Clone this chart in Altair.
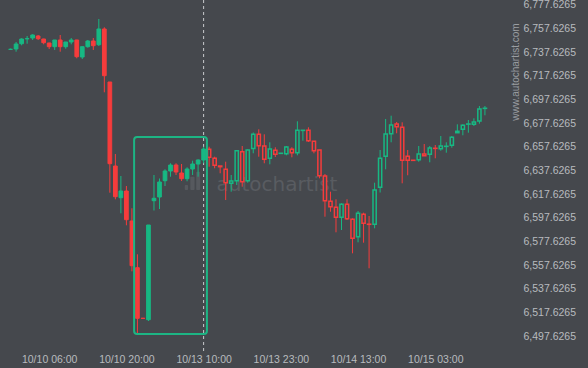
import altair as alt
import pandas as pd

# ---- candle data (hourly) ----
opens = [6739.90, 6740.23, 6744.70, 6748.80, 6749.52, 6751.20, 6748.67, 6745.30, 6742.17, 6747.83,
         6742.17, 6746.14, 6747.83, 6733.47, 6742.17, 6746.98, 6743.86, 6757.12, 6712.37, 6641.45,
         6614.68, 6620.34, 6595.01, 6555.58, 6512.90, 6511.68, 6612.15, 6615.27, 6629.03, 6637.22,
         6642.29, 6635.54, 6630.72, 6638.91, 6643.13, 6646.51, 6655.55, 6647.95, 6641.45, 6638.66,
         6626.84, 6629.03, 6653.52, 6629.03, 6656.22, 6668.29, 6658.33, 6647.95, 6654.70, 6652.10,
         6651.83, 6655.55, 6652.67, 6671.50, 6671.59, 6662.30, 6654.95, 6633.00, 6611.64, 6606.58,
         6598.13, 6609.11, 6596.45, 6581.75, 6600.66, 6592.30, 6592.22, 6623.46, 6649.64, 6668.72,
         6676.91, 6674.12, 6649.64, 6646.30, 6646.77, 6651.58, 6651.32, 6656.40, 6656.05, 6658.00,
         6658.92, 6669.56, 6672.43, 6676.80, 6676.65, 6679.44, 6690.10]
highs = [6740.60, 6746.14, 6749.26, 6751.20, 6752.64, 6752.05, 6748.90, 6745.50, 6747.83, 6752.05,
         6746.14, 6749.52, 6748.00, 6742.17, 6747.83, 6749.52, 6765.56, 6758.55, 6712.37, 6651.58,
         6633.00, 6624.56, 6605.73, 6566.89, 6513.00, 6591.63, 6633.85, 6630.89, 6638.66, 6643.73,
         6643.73, 6643.13, 6640.35, 6645.92, 6647.10, 6657.74, 6657.74, 6649.30, 6641.45, 6645.08,
         6633.85, 6654.95, 6658.33, 6655.55, 6669.73, 6672.43, 6668.21, 6661.46, 6657.24, 6652.30,
         6658.33, 6657.24, 6679.19, 6671.70, 6674.12, 6662.30, 6654.95, 6634.69, 6619.75, 6613.33,
         6609.95, 6613.33, 6597.29, 6603.45, 6602.02, 6599.23, 6627.35, 6654.95, 6681.13, 6683.91,
         6678.60, 6678.34, 6654.95, 6646.40, 6658.33, 6660.02, 6658.33, 6659.18, 6666.78, 6661.46,
         6666.78, 6676.65, 6676.65, 6680.28, 6681.72, 6692.10, 6692.10]
lows = [6739.40, 6737.95, 6743.35, 6744.70, 6747.83, 6747.83, 6744.20, 6740.23, 6739.40, 6737.95,
        6740.48, 6744.20, 6732.38, 6731.79, 6741.33, 6739.40, 6742.76, 6703.67, 6618.90, 6613.33,
        6601.51, 6591.38, 6552.54, 6500.19, 6512.60, 6510.58, 6603.87, 6605.14, 6624.56, 6632.41,
        6633.85, 6628.78, 6628.53, 6633.85, 6632.41, 6643.73, 6640.86, 6639.51, 6635.29, 6612.74,
        6619.75, 6625.41, 6623.97, 6627.35, 6652.17, 6649.30, 6643.73, 6642.88, 6649.04, 6652.00,
        6650.48, 6648.79, 6650.48, 6662.81, 6661.71, 6652.17, 6631.06, 6598.64, 6602.86, 6585.47,
        6587.41, 6595.85, 6567.74, 6577.03, 6576.69, 6555.07, 6588.85, 6619.07, 6638.66, 6661.46,
        6669.06, 6626.84, 6633.60, 6646.10, 6645.08, 6649.89, 6644.57, 6647.95, 6654.36, 6652.67,
        6656.90, 6669.56, 6667.37, 6669.56, 6675.22, 6677.16, 6684.25]
closes = [6740.00, 6744.45, 6748.67, 6749.00, 6752.05, 6748.93, 6745.55, 6742.17, 6747.83, 6742.17,
          6746.14, 6747.83, 6733.73, 6742.17, 6746.98, 6743.02, 6757.12, 6717.69, 6643.39, 6615.53,
          6620.34, 6596.11, 6557.27, 6512.86, 6512.80, 6591.63, 6614.18, 6627.94, 6637.22, 6642.29,
          6636.38, 6630.72, 6638.91, 6643.13, 6646.51, 6655.80, 6648.79, 6642.04, 6640.86, 6627.35,
          6628.78, 6654.36, 6628.19, 6654.95, 6668.29, 6658.59, 6647.10, 6655.80, 6651.32, 6652.20,
          6657.49, 6652.67, 6671.59, 6671.60, 6662.81, 6654.36, 6633.26, 6612.15, 6607.08, 6598.13,
          6609.11, 6596.95, 6580.40, 6601.51, 6593.07, 6592.20, 6621.18, 6647.95, 6668.46, 6676.06,
          6674.63, 6646.26, 6646.26, 6646.20, 6651.58, 6650.14, 6656.64, 6656.30, 6658.33, 6658.10,
          6665.68, 6670.74, 6675.81, 6676.90, 6678.60, 6689.57, 6690.20]
split_index = 35  # dashed "now" line; candles after it are drawn hollow

tick_index = [7, 21, 35, 49, 63, 77]
tick_labels = ["10/10 06:00", "10/10 20:00", "10/13 10:00", "10/13 23:00", "10/14 13:00", "10/15 03:00"]
price_ticks = [6497.6265, 6517.6265, 6537.6265, 6557.6265, 6577.6265, 6597.6265, 6617.6265,
               6637.6265, 6657.6265, 6677.6265, 6697.6265, 6717.6265, 6737.6265, 6757.6265, 6777.6265]

# pattern box (index range, price range)
box_start, box_end = [22.4], [35.6]
box_low, box_high = [6499.6], [6665.9]

# watermark
wm_text = ["autochartist"]
wm_index, wm_price = [48.3], [6620.3]
logo_x0 = [31.58, 32.59, 33.66]
logo_x1 = [32.18, 33.36, 34.37]
logo_bottom = [6621.18, 6621.18, 6621.18]
logo_top = [6625.41, 6632.41, 6636.64]

BG = "#45484d"
GREEN = "#17b883"
RED = "#f63c3c"
LABEL = "#b8bbbf"
FONT = "Liberation Sans"

W, H = 515, 340
x_domain = [-1.009, -1.009 + W / 5.625]
y_domain = [6494.54, 6781.60]

df = pd.DataFrame({"i": list(range(len(opens))), "open": opens, "high": highs,
                   "low": lows, "close": closes})
df["dir"] = ["up" if c >= o else "down" for o, c in zip(opens, closes)]

xs = alt.Scale(domain=x_domain, nice=False, zero=False)
ys = alt.Scale(domain=y_domain, nice=False, zero=False)

label_expr = " : ".join(f"datum.value == {v} ? '{t}'" for v, t in zip(tick_index, tick_labels)) + " : ''"

x_axis = alt.Axis(values=tick_index, labelExpr=label_expr, domain=False, ticks=False, grid=False,
                  labelColor=LABEL, labelFontSize=10.5, labelFont=FONT, labelPadding=14,
                  title=None, labelFlush=False, labelOverlap=False)
y_axis = alt.Axis(orient="right", values=price_ticks, format=",.4f", domain=False, ticks=False,
                  grid=False, labelColor=LABEL, labelFontSize=10.5, labelFont=FONT, labelPadding=8,
                  title=None, labelFlush=False, labelOverlap=False, labelBaseline="middle")

dir_scale = alt.Scale(domain=["up", "down"], range=[GREEN, RED])

base = alt.Chart(df)

wicks = base.mark_rule(strokeWidth=1).encode(
    x=alt.X("i:Q", scale=xs, axis=x_axis),
    y=alt.Y("low:Q", scale=ys, axis=y_axis),
    y2="high:Q",
    color=alt.Color("dir:N", scale=dir_scale, legend=None),
)

filled = base.transform_filter(f"datum.i <= {split_index}").mark_bar(size=3.7, strokeWidth=1).encode(
    x=alt.X("i:Q", scale=xs, axis=x_axis),
    y=alt.Y("open:Q", scale=ys, axis=y_axis),
    y2="close:Q",
    fill=alt.Fill("dir:N", scale=dir_scale, legend=None),
    stroke=alt.Stroke("dir:N", scale=dir_scale, legend=None),
)

hollow = base.transform_filter(f"datum.i > {split_index}").mark_bar(size=3.2, strokeWidth=1.5, fill=BG).encode(
    x=alt.X("i:Q", scale=xs, axis=x_axis),
    y=alt.Y("open:Q", scale=ys, axis=y_axis),
    y2="close:Q",
    stroke=alt.Stroke("dir:N", scale=dir_scale, legend=None),
)

wm = alt.Chart(pd.DataFrame({"t": wm_text, "i": wm_index, "p": wm_price})).mark_text(
    font="DejaVu Sans", fontSize=20, color="#595c61", align="center", baseline="alphabetic"
).encode(x=alt.X("i:Q", scale=xs, axis=x_axis), y=alt.Y("p:Q", scale=ys, axis=y_axis), text="t:N")

logo = alt.Chart(pd.DataFrame({"x0": logo_x0, "x1": logo_x1, "b": logo_bottom, "t": logo_top})).mark_rect(
    color="#56595e", cornerRadius=1
).encode(x=alt.X("x0:Q", scale=xs, axis=x_axis), x2="x1:Q",
         y=alt.Y("b:Q", scale=ys, axis=y_axis), y2="t:Q")

now_line = alt.Chart(pd.DataFrame({"i": [split_index]})).mark_rule(
    color="#c9cbce", strokeWidth=1, strokeDash=[3, 3]
).encode(x=alt.X("i:Q", scale=xs, axis=x_axis), y=alt.value(0), y2=alt.value(352))

box = alt.Chart(pd.DataFrame({"x0": box_start, "x1": box_end, "lo": box_low, "hi": box_high})).mark_rect(
    fillOpacity=0, stroke="#1db584", strokeWidth=2, cornerRadius=3
).encode(x=alt.X("x0:Q", scale=xs, axis=x_axis), x2="x1:Q",
         y=alt.Y("lo:Q", scale=ys, axis=y_axis), y2="hi:Q")

site = alt.Chart(pd.DataFrame({"t": ["www.autochartist.com"]})).mark_text(
    font=FONT, fontSize=10, color="#9a9da1", angle=270, align="center", baseline="middle"
).encode(text="t:N", x=alt.value(515.5), y=alt.value(72))

chart = alt.layer(wm, logo, now_line, wicks, filled, hollow, box, site).properties(
    width=W, height=H, background=BG,
    padding={"left": 0, "top": 0, "right": 588 - W, "bottom": 368 - H},
    autosize=alt.AutoSizeParams(type="none"),
).configure_view(stroke=None)

chart.save("out.html", embed_options={"renderer": "svg", "actions": False})
